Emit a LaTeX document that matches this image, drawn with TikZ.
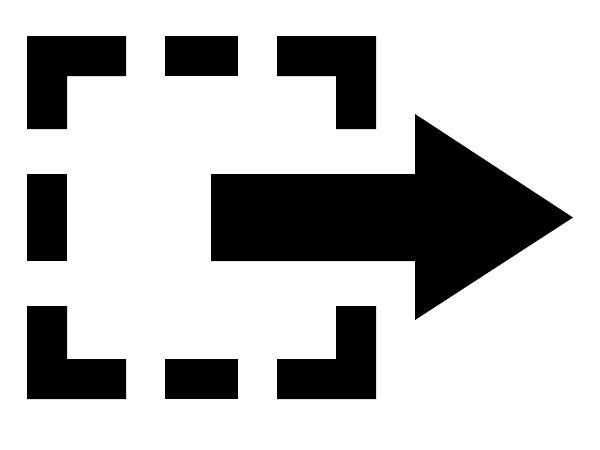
\documentclass[tikz,border=0pt]{standalone}
\begin{document}
\begin{tikzpicture}[x=1pt,y=-1pt,shapefill/.style={fill=black,draw=none}]
\useasboundingbox (0,0) rectangle (600,450);
\fill[shapefill] (27,36) -- (126,36) -- (126,76) -- (67,76) -- (67,129) -- (27,129) -- cycle;
\fill[shapefill] (165,36) rectangle (238,76);
\fill[shapefill] (277,36) -- (376,36) -- (376,129) -- (336,129) -- (336,76) -- (277,76) -- cycle;
\fill[shapefill] (27,174) rectangle (67,261);
\fill[shapefill] (27,306) -- (67,306) -- (67,359) -- (126,359) -- (126,399) -- (27,399) -- cycle;
\fill[shapefill] (165,359) rectangle (238,399);
\fill[shapefill] (336,306) -- (376,306) -- (376,399) -- (277,399) -- (277,359) -- (336,359) -- cycle;
\fill[shapefill] (211,174) -- (415,174) -- (415,114) -- (573,217.5) -- (415,320) -- (415,261) -- (211,261) -- cycle;
\end{tikzpicture}
\end{document}
